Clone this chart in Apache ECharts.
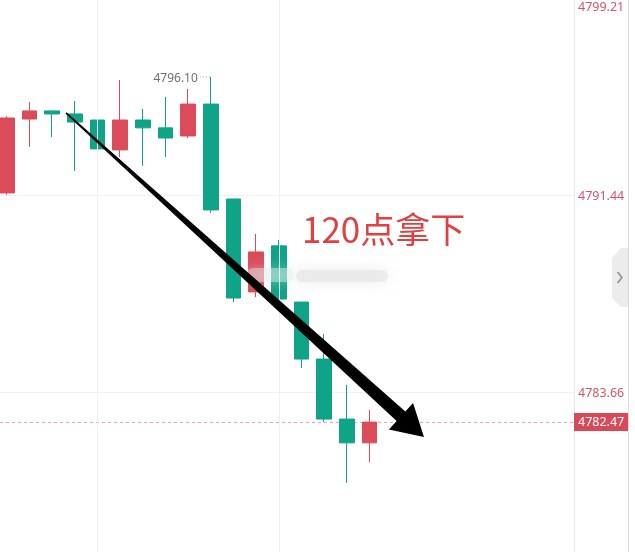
<!DOCTYPE html>
<html><head><meta charset="utf-8">
<script src="https://cdn.jsdelivr.net/npm/echarts@6/dist/echarts.min.js"></script>
<style>html,body{margin:0;padding:0;background:#fff;overflow:hidden}#c{width:635px;height:552px}</style>
</head><body><div id="c"></div>
<script>
// ---- data ----
const categories = ['01','02','03','04','05','06','07','08','09','10','11','12','13','14','15','16','17','18','19','20','21','22','23','24','25','26'];
const opens  = [4791.52, 4794.44, 4794.76, 4794.64, 4794.40, 4793.22, 4794.40, 4794.09, 4793.77, 4795.03, 4791.28, 4787.61, 4789.43, 4787.21, 4784.96, 4782.59, 4781.65];
const closes = [4794.48, 4794.76, 4794.64, 4794.32, 4793.26, 4794.40, 4794.09, 4793.69, 4795.03, 4790.85, 4787.37, 4789.19, 4787.33, 4784.96, 4782.59, 4781.65, 4782.47];
const lows   = [4791.45, 4793.34, 4793.73, 4792.39, 4793.06, 4792.94, 4792.59, 4792.94, 4793.69, 4790.73, 4787.21, 4787.41, 4787.30, 4784.61, 4782.47, 4780.07, 4780.89];
const highs  = [4794.55, 4795.11, 4794.76, 4795.15, 4794.40, 4795.98, 4794.84, 4795.31, 4795.63, 4796.10, 4791.28, 4789.90, 4789.66, 4787.21, 4785.95, 4783.94, 4782.95];
const yTicks = [4799.21, 4791.44, 4783.66];
const lastPrice = 4782.47;
const vGridAt = ['05', '13'];
const highMarkIndex = 9;
const annotationText = '120点拿下';
const arrowFrom = [2.61, 4794.68];
const arrowTo = [18.40, 4781.88];
const yMin = 4777.34, yMax = 4799.14;

const RED = '#dc4b5a', GREEN = '#0fa388';

const kData = opens.map((o, i) => [o, closes[i], lows[i], highs[i]]);

const chart = echarts.init(document.getElementById('c'));
chart.setOption({
  animation: false,
  backgroundColor: '#fff',
  grid: { left: 6.8, right: 61.4, top: 0, bottom: 0, containLabel: false },
  xAxis: { type: 'category', data: categories, show: false, boundaryGap: false },
  yAxis: { type: 'value', min: yMin, max: yMax, show: false, scale: true },
  series: [{
    type: 'candlestick',
    data: kData,
    barWidth: 15,
    clip: false,
    itemStyle: { color: RED, color0: GREEN, borderColor: RED, borderColor0: GREEN, borderWidth: 1 },
    markLine: {
      silent: true, symbol: 'none', animation: false,
      label: { show: false },
      lineStyle: { color: '#f0f0f0', width: 1, type: 'solid' },
      data: vGridAt.map(c => ({ xAxis: c }))
    }
  }]
});

// pixel helpers through the chart's own scales (linear between category centres)
const yPix = v => chart.convertToPixel({ yAxisIndex: 0 }, v);
const xc0 = chart.convertToPixel({ xAxisIndex: 0 }, 0);
const xc1 = chart.convertToPixel({ xAxisIndex: 0 }, 1);
const xPix = k => xc0 + k * (xc1 - xc0);
const px = (k, v) => [xPix(k), yPix(v)];

const els = [];
// horizontal grid lines and last price line
yTicks.forEach(v => {
  const y = Math.round(yPix(v)) + 0.5;
  els.push({ type: 'line', z: 0, silent: true, shape: { x1: 0, y1: y, x2: 574, y2: y }, style: { stroke: '#f0f0f0', lineWidth: 1 } });
});
const ly = yPix(lastPrice);
els.push({ type: 'line', z: 1, silent: true, shape: { x1: 0, y1: Math.round(ly) + 0.5, x2: 574, y2: Math.round(ly) + 0.5 }, style: { stroke: '#e6a3ab', lineWidth: 1, lineDash: [3, 3] } });
// axis area
els.push({ type: 'rect', z: 50, shape: { x: 575, y: 0, width: 60, height: 552 }, style: { fill: '#fff' } });
els.push({ type: 'line', z: 60, shape: { x1: 574.5, y1: 0, x2: 574.5, y2: 552 }, style: { stroke: '#e6e6e6', lineWidth: 1 } });
els.push({ type: 'line', z: 60, shape: { x1: 628.5, y1: 0, x2: 628.5, y2: 552 }, style: { stroke: '#dcdcdc', lineWidth: 1 } });
// tick labels
yTicks.forEach(v => {
  let y = yPix(v);
  y = Math.max(7, Math.min(545, y + 1));
  els.push({ type: 'text', z: 61, style: { text: v.toFixed(2), x: 578, y: y, fill: '#d2566a', font: '12.5px "Noto Sans", sans-serif', verticalAlign: 'middle', align: 'left' } });
});
// last price badge
els.push({ type: 'rect', z: 61, shape: { x: 574, y: ly - 9, width: 54, height: 18 }, style: { fill: '#d84a5a' } });
els.push({ type: 'text', z: 62, style: { text: lastPrice.toFixed(2), x: 578, y: ly + 0.5, fill: '#fff', font: '12.5px "Noto Sans", sans-serif', verticalAlign: 'middle', align: 'left' } });
// side tab
els.push({ type: 'polygon', z: 61, shape: { points: [[612, 258], [621, 248], [628, 248], [628, 307], [621, 307], [612, 298]] }, style: { fill: '#ececec' } });
els.push({ type: 'polyline', z: 62, shape: { points: [[617.5, 272], [622, 277.5], [617.5, 283]] }, style: { stroke: '#8a8a8a', lineWidth: 1.5, fill: null } });
// high label
const hp = px(highMarkIndex, highs[highMarkIndex]);
els.push({ type: 'text', z: 40, style: { text: highs[highMarkIndex].toFixed(2), x: hp[0] - 13, y: hp[1] + 2, fill: '#6f6f6f', font: '12px "Noto Sans", sans-serif', align: 'right', verticalAlign: 'middle' } });
els.push({ type: 'line', z: 40, shape: { x1: hp[0] - 11, y1: hp[1], x2: hp[0], y2: hp[1] }, style: { stroke: '#999', lineWidth: 1, lineDash: [1, 2] } });
// watermark blur
els.push({ type: 'rect', z: 30, shape: { x: 296, y: 270, width: 92, height: 12, r: 6 }, style: { fill: 'rgba(228,228,228,0.6)', shadowBlur: 14, shadowColor: 'rgba(220,220,220,0.9)' } });
els.push({ type: 'rect', z: 30, shape: { x: 246, y: 268, width: 48, height: 14, r: 7 }, style: { fill: 'rgba(225,240,236,0.45)', shadowBlur: 12, shadowColor: 'rgba(215,235,230,0.8)' } });
// annotation text
els.push({ type: 'text', z: 45, style: { text: annotationText, x: 302, y: 230, fill: '#e0403f', font: '35px "Noto Sans CJK SC", sans-serif', verticalAlign: 'middle', align: 'left' } });
// arrow
const a = px(arrowFrom[0], arrowFrom[1]);
const b = px(arrowTo[0], arrowTo[1]);
const dx = b[0] - a[0], dy = b[1] - a[1];
const L = Math.hypot(dx, dy);
const ux = dx / L, uy = dy / L, nx = -uy, ny = ux;
const headLen = 31, headHalf = 18, w0 = 0.8, w1 = 6.5;
const bx = b[0] - ux * headLen, by = b[1] - uy * headLen;
els.push({ type: 'polygon', z: 48, shape: { points: [
  [a[0] + nx * w0, a[1] + ny * w0],
  [bx + nx * w1, by + ny * w1],
  [bx + nx * headHalf, by + ny * headHalf],
  [b[0], b[1]],
  [bx - nx * headHalf, by - ny * headHalf],
  [bx - nx * w1, by - ny * w1],
  [a[0] - nx * w0, a[1] - ny * w0]
] }, style: { fill: '#000' } });

chart.setOption({ graphic: { elements: els } });
</script>
</body></html>
